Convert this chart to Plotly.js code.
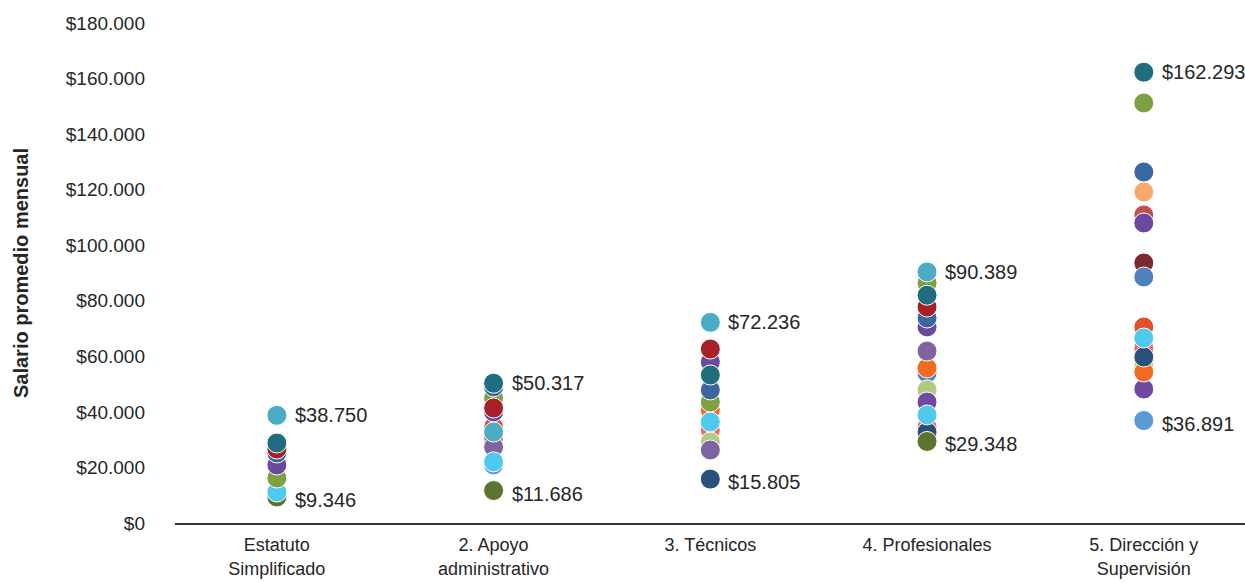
<!DOCTYPE html>
<html>
<head>
<meta charset="utf-8">
<script src="https://cdn.plot.ly/plotly-3.0.1.min.js"></script>
<style>
  html, body { margin: 0; padding: 0; background: #ffffff; }
  #chart { width: 1245px; height: 583px; }
</style>
</head>
<body>
<div id="chart"></div>
<script>
// Categories (x axis)
const categories = [
  "Estatuto<br>Simplificado",
  "2. Apoyo<br>administrativo",
  "3. Técnicos",
  "4. Profesionales",
  "5. Dirección y<br>Supervisión"
];

// Y axis tick values
const yTicks = [0, 20000, 40000, 60000, 80000, 100000, 120000, 140000, 160000, 180000];

// Series names (one colour per entity)
const seriesNames = [
  "Serie 1", "Serie 2", "Serie 3", "Serie 4", "Serie 5",
  "Serie 6", "Serie 7", "Serie 8", "Serie 9", "Serie 10",
  "Serie 11", "Serie 12", "Serie 13", "Serie 14", "Serie 15",
  "Serie 16", "Serie 17", "Serie 18", "Serie 19", "Serie 20"
];

// Series colours
const seriesColors = [
  "#F9A86A", "#7B2A2D", "#4F81BD", "#C0504D", "#EE6A6A",
  "#B0CB80", "#6E4AA0", "#F26B21", "#E0502A", "#8064A2",
  "#2A4F7A", "#5D7430", "#5B9BD5", "#4FC9EE", "#7FA040",
  "#6A4A9C", "#3A67A0", "#A81E29", "#1F6E80", "#4BACC6"
];

// Monthly average salary per series, per category (null = no value)
const s1  = [null,  null,  null,  null,  119160];
const s2  = [null,  null,  null,  null,  93600];
const s3  = [null,  null,  null,  54000, 88560];
const s4  = [null,  null,  null,  null,  110880];
const s5  = [null,  null,  33480, 34560, 63000];
const s6  = [null,  null,  29160, 47900, 56520];
const s7  = [null,  null,  null,  43560, 48240];
const s8  = [null,  30600, 40700, 55800, 54360];
const s9  = [null,  34560, null,  null,  70560];
const s10 = [null,  27360, 26280, 61900, null];
const s11 = [null,  null,  15805, 32760, 59760];
const s12 = [9346,  11686, null,  29348, null];
const s13 = [null,  20900, null,  null,  36891];
const s14 = [11160, 22000, 36360, 38900, 66600];
const s15 = [16200, 45000, 43560, 86400, 151200];
const s16 = [20880, 40000, 58000, 70600, 108000];
const s17 = [25200, 49000, 47900, 73800, 126360];
const s18 = [26640, 41400, 62640, 77760, null];
const s19 = [28800, 50317, 53280, 82000, 162293];
const s20 = [38750, 32760, 72236, 90389, null];

const seriesValues = [s1, s2, s3, s4, s5, s6, s7, s8, s9, s10,
                      s11, s12, s13, s14, s15, s16, s17, s18, s19, s20];

const FONT = "Liberation Sans, Arial, Helvetica, sans-serif";
const TXT = "#262626";

function fmt(v) {
  const s = Math.round(v).toString();
  return "$" + s.replace(/\B(?=(\d{3})+(?!\d))/g, ".");
}

const traces = seriesValues.map((vals, i) => ({
  type: "scatter",
  mode: "markers",
  name: seriesNames[i],
  x: categories,
  y: vals,
  marker: { size: 20, color: seriesColors[i], line: { color: "#ffffff", width: 1 } },
  hovertemplate: "%{y}<extra>" + seriesNames[i] + "</extra>"
}));

// Min and max labels per category
const annotations = [];
categories.forEach((c, j) => {
  const col = seriesValues.map(v => v[j]).filter(v => v !== null);
  const mx = Math.max(...col), mn = Math.min(...col);
  annotations.push({ x: c, y: mx, xref: "x", yref: "y", text: fmt(mx), showarrow: false,
    xanchor: "left", yanchor: "middle", xshift: 16, yshift: 0,
    font: { family: FONT, size: 20, color: TXT } });
  annotations.push({ x: c, y: mn, xref: "x", yref: "y", text: fmt(mn), showarrow: false,
    xanchor: "left", yanchor: "middle", xshift: 16, yshift: -3,
    font: { family: FONT, size: 20, color: TXT } });
});

const layout = {
  width: 1245, height: 583,
  margin: { l: 175, r: 0, t: 23, b: 60 },
  paper_bgcolor: "#ffffff", plot_bgcolor: "#ffffff",
  showlegend: false,
  font: { family: FONT, color: TXT },
  xaxis: {
    type: "category",
    range: [-0.47, 4.467],
    showgrid: false, zeroline: false,
    showline: true, linecolor: "#333333", linewidth: 1.5,
    ticks: "",
    tickfont: { family: FONT, size: 18, color: TXT },
    ticklabelstandoff: 5
  },
  yaxis: {
    range: [0, 180000],
    tickvals: yTicks,
    ticktext: yTicks.map(fmt),
    showgrid: false, zeroline: false, showline: false,
    ticks: "",
    ticklabelstandoff: 29,
    tickfont: { family: FONT, size: 19, color: TXT },
    title: { text: "<b>Salario promedio mensual</b>", standoff: 31,
             font: { family: FONT, size: 20, color: TXT } }
  },
  annotations: annotations
};

Plotly.newPlot("chart", traces, layout, { displayModeBar: false, staticPlot: true });
</script>
</body>
</html>
